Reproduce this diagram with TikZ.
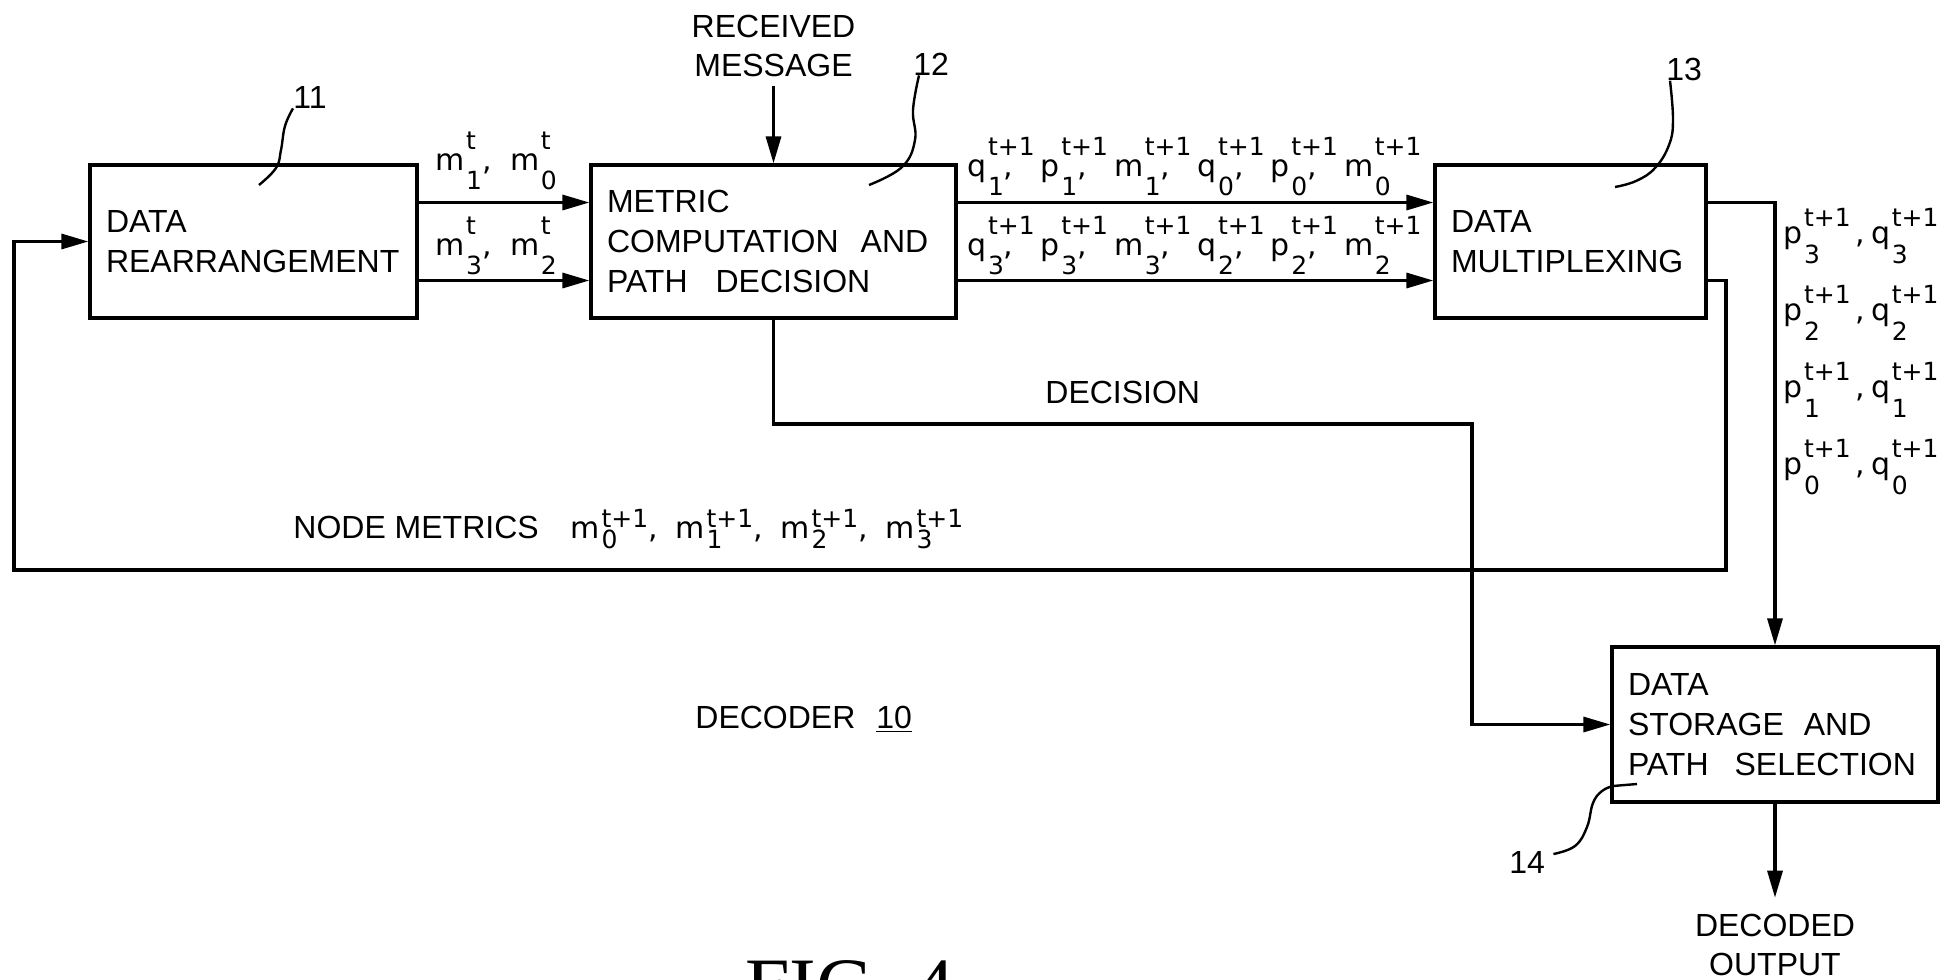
\documentclass[tikz,border=0pt]{standalone}
\usepackage{fontspec}
\setmainfont{Liberation Sans}
\newfontfamily\dvs{DejaVu Sans}
\newfontfamily\figfont{Liberation Serif}
\usetikzlibrary{arrows.meta}
\newcommand\subsz{\fontsize{12.5}{13}\selectfont}
\newcommand\lab[4]{#1\hspace{0.8pt}\rlap{\raisebox{-9.5pt}{\subsz #2}#4}\raisebox{10.5pt}{\subsz #3}}
\newcommand\labr[3]{#1\hspace{0.8pt}\rlap{\raisebox{-10pt}{\subsz #2}}\raisebox{8.5pt}{\subsz #3}}
\newcommand\labn[4]{#1\hspace{0.8pt}\rlap{\raisebox{-5pt}{\subsz #2}#4}\raisebox{5.5pt}{\subsz #3}}
\begin{document}
\begin{tikzpicture}[x=0.5pt,y=-0.5pt,
  txt/.style={font=\fontsize{16}{19.5}\selectfont, inner sep=0pt},
  lbl/.style={font=\dvs\fontsize{15}{18}\selectfont, inner sep=0pt, anchor=base west},
  blk/.style={draw, line width=1.6pt, inner xsep=8pt, inner ysep=0pt, align=left,
    font=\fontsize{16}{20}\selectfont, minimum height=76.5pt},
  ln/.style={line width=1.6pt},
  arr/.style={ln, -{Triangle[length=13.5pt,width=7.5pt]}},
  leader/.style={line width=1.2pt}]
\fill[white] (0,0) rectangle (1940,980);
\useasboundingbox (0,0) rectangle (1940,980);

% blocks
\node[blk, text width=147.5pt] (b11) at (253.5,241.5) {DATA\\REARRANGEMENT};
\node[blk, text width=166.5pt] (b12) at (773.5,241.5) {METRIC\\COMPUTATION\hspace{11pt}AND\\PATH\hspace{14pt}DECISION};
\node[blk, text width=119.5pt] (b13) at (1570.5,241.5) {DATA\\MULTIPLEXING};
\node[blk, text width=147pt, minimum height=77.5pt] (b14) at (1775,724.5) {DATA\\STORAGE\hspace{10pt}AND\\PATH\hspace{13pt}SELECTION};

% reference numerals
\node[txt, anchor=base west] (l11) at (293,108) {11};
\node[txt, anchor=base west] (l12) at (913,75) {12};
\node[txt, anchor=base west] (l13) at (1666,80) {13};
\node[txt, anchor=base west] (l14) at (1509,873) {14};

\draw[leader] plot[smooth, tension=0.7] coordinates {(l11.south west) (285,126) (281,150) (276,168) (259,185)};
\draw[leader] plot[smooth, tension=0.7] coordinates {([xshift=3pt]l12.south west) (913,110) (915,140) (902,167) (869,185)};
\draw[leader] plot[smooth, tension=0.7] coordinates {([xshift=2pt]l13.south west) (1673,120) (1669,145) (1655,168) (1636,181) (1615,187)};
\draw[leader] plot[smooth, tension=0.7] coordinates {([xshift=4pt,yshift=4pt]l14.east) (1575,846) (1587,827) (1593,803) (1602,791) (1613,786)} -- (1637,784);

% received message
\node[txt, align=center, anchor=north] (rm) at (773.5,14.7) {RECEIVED\\MESSAGE};
\draw[arr] ([yshift=-4.5pt]rm.south) -- (b12.north);

% 11 -> 12
\draw[arr] ([yshift=19.5pt]b11.east) -- ([yshift=19.5pt]b12.west);
\draw[arr] ([yshift=-19.5pt]b11.east) -- ([yshift=-19.5pt]b12.west);
\node[lbl] (mt1) at (435,170) {\lab{m}{1}{t}{,}\hspace{17pt}\lab{m}{0}{t}{}};
\node[lbl] (mt2) at (435,255) {\lab{m}{3}{t}{,}\hspace{17pt}\lab{m}{2}{t}{}};

% 12 -> 13
\draw[arr] ([yshift=19.5pt]b12.east) -- ([yshift=19.5pt]b13.west);
\draw[arr] ([yshift=-19.5pt]b12.east) -- ([yshift=-19.5pt]b13.west);
\node[lbl] (qa) at (967,176) {\lab{q}{1}{t+1}{,}\hspace{3pt}\lab{p}{1}{t+1}{,}\hspace{3pt}\lab{m}{1}{t+1}{,}\hspace{3pt}\lab{q}{0}{t+1}{,}\hspace{3pt}\lab{p}{0}{t+1}{,}\hspace{3pt}\lab{m}{0}{t+1}{}};
\node[lbl] (qb) at (967,255) {\lab{q}{3}{t+1}{,}\hspace{3pt}\lab{p}{3}{t+1}{,}\hspace{3pt}\lab{m}{3}{t+1}{,}\hspace{3pt}\lab{q}{2}{t+1}{,}\hspace{3pt}\lab{p}{2}{t+1}{,}\hspace{3pt}\lab{m}{2}{t+1}{}};

% 13 -> 14
\draw[arr] ([yshift=19.5pt]b13.east) -| (b14.north);
\node[lbl] (r3) at (1783,243) {\labr{p}{3}{t+1}\hspace{2.5pt},\hspace{3pt}\labr{q}{3}{t+1}};
\node[lbl] (r2) at (1783,320) {\labr{p}{2}{t+1}\hspace{2.5pt},\hspace{3pt}\labr{q}{2}{t+1}};
\node[lbl] (r1) at (1783,397) {\labr{p}{1}{t+1}\hspace{2.5pt},\hspace{3pt}\labr{q}{1}{t+1}};
\node[lbl] (r0) at (1783,474) {\labr{p}{0}{t+1}\hspace{2.5pt},\hspace{3pt}\labr{q}{0}{t+1}};

% feedback
\coordinate (fbR) at (1726,570);
\coordinate (fbL) at (14,570);
\draw[arr] ([yshift=-19.5pt]b13.east) -| (fbR) -- (fbL) |- (b11.west);
\node[txt, anchor=base west] (nm) at (293,538) {NODE METRICS\hspace{16pt}{\dvs\fontsize{15}{18}\selectfont
  \labn{m}{0}{t+1}{},\hspace{9pt}\labn{m}{1}{t+1}{},\hspace{9pt}\labn{m}{2}{t+1}{},\hspace{9pt}\labn{m}{3}{t+1}{}}};

% decision
\coordinate (dc) at (1472,424);
\draw[arr] (b12.south) |- (dc) |- (b14.west);
\node[txt, anchor=base west] (dl) at (1045,403) {DECISION};

% decoded output
\node[txt, align=center, anchor=north] (dout) at (1775,913.7) {DECODED\\OUTPUT};
\draw[arr] (b14.south) -- ([yshift=8pt]dout.north);

% captions
\node[txt, anchor=base west] (dec) at (695,728) {DECODER\hspace{6pt} \underline{10}};
\node[inner sep=0pt, anchor=base west, font=\figfont\fontsize{40}{40}\selectfont] (fig) at (745,1013) {FIG. 4};
\end{tikzpicture}
\end{document}
